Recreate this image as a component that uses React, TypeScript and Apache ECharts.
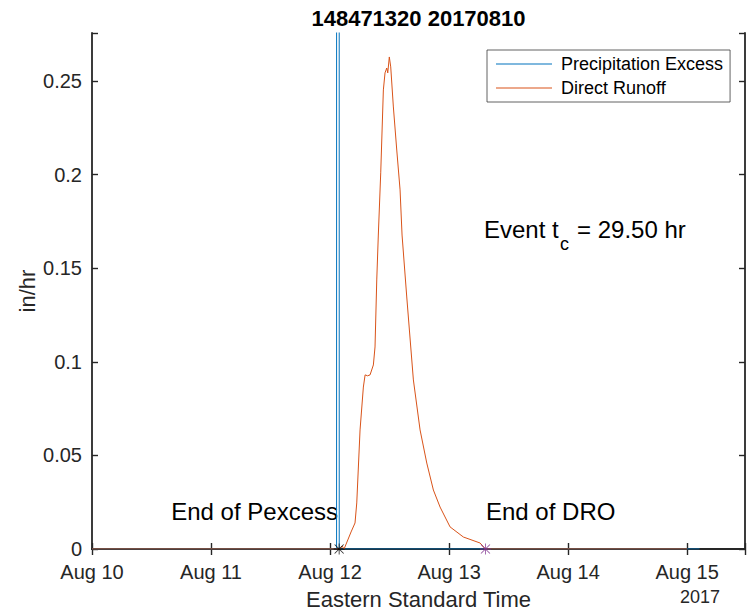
import React, { useEffect, useRef } from 'react';
import * as echarts from 'echarts';

const TITLE = '148471320 20170810';
const X_NAME = 'Eastern Standard Time';
const X_SECONDARY = '2017';
const Y_NAME = 'in/hr';
const X_TICK_LABELS = ['Aug 10', 'Aug 11', 'Aug 12', 'Aug 13', 'Aug 14', 'Aug 15'];
const Y_TICK_LABELS = ['0', '0.05', '0.1', '0.15', '0.2', '0.25'];
const X_START = '2017-08-10 00:00';
const X_END = '2017-08-15 11:40';
const Y_MAX = 0.2756;
const Y_STEP = 0.05;

const SERIES_NAMES = ['Precipitation Excess', 'Direct Runoff'];

const PEXCESS_TIMES = [
  '2017-08-10 00:00', '2017-08-12 01:19', '2017-08-12 01:20',
  '2017-08-12 01:50', '2017-08-12 01:51', '2017-08-15 02:30',
];
const PEXCESS_VALUES = [0, 0, 1.2, 1.2, 0, 0];

const RUNOFF_TIMES = [
  '2017-08-10 00:00', '2017-08-12 02:00', '2017-08-12 02:25', '2017-08-12 02:50',
  '2017-08-12 04:14', '2017-08-12 05:02', '2017-08-12 05:23', '2017-08-12 06:03',
  '2017-08-12 06:43', '2017-08-12 07:04', '2017-08-12 07:34', '2017-08-12 08:04',
  '2017-08-12 08:44', '2017-08-12 09:04', '2017-08-12 09:25', '2017-08-12 09:44',
  '2017-08-12 10:13', '2017-08-12 10:45', '2017-08-12 11:05', '2017-08-12 11:26',
  '2017-08-12 11:38', '2017-08-12 11:57', '2017-08-12 12:14', '2017-08-12 12:46',
  '2017-08-12 13:27', '2017-08-12 14:07', '2017-08-12 14:31', '2017-08-12 15:28',
  '2017-08-12 16:48', '2017-08-12 18:09', '2017-08-12 19:30', '2017-08-12 20:50',
  '2017-08-12 22:11', '2017-08-13 00:12', '2017-08-13 02:53', '2017-08-13 06:15',
  '2017-08-13 07:20', '2017-08-15 00:00',
];
const RUNOFF_VALUES = [
  0, 0, 0.0016, 0,
  0.0091, 0.0139, 0.0246, 0.0636,
  0.0865, 0.093, 0.0925, 0.093,
  0.0983, 0.1079, 0.1437, 0.1677,
  0.2009, 0.2452, 0.2543, 0.2569,
  0.2543, 0.2628, 0.2575, 0.2361,
  0.2131, 0.1918, 0.1677, 0.1346,
  0.0903, 0.0636, 0.0459, 0.0315,
  0.0224, 0.0118, 0.0064, 0.0032,
  0, 0,
];

const END_PEXCESS = '2017-08-12 01:50';
const END_DRO = '2017-08-13 07:20';
const TC_HOURS = 29.5;

const DAY = 86400000;
const FONT = '"Liberation Sans", Arial, Helvetica, sans-serif';
const AXIS_COLOR = '#262626';
const ASTERISK =
  'path://M4.6,0H5.4V10H4.6Z M0,4.6H10V5.4H0Z M1.2,0.6L9.4,8.8L8.8,9.4L0.6,1.2Z M8.8,0.6L9.4,1.2L1.2,9.4L0.6,8.8Z';
const LEGEND_LINE = 'path://M0,0H56V1H0Z';

function toMs(s: string): number {
  const [d, t] = s.split(' ');
  const [Y, M, D] = d.split('-').map(Number);
  const [h, m] = t.split(':').map(Number);
  return Date.UTC(Y, M - 1, D, h, m);
}

const T0 = toMs(X_START);
const T1 = toMs(X_END);

function xLabel(v: number): string {
  const i = Math.round((v - T0) / DAY);
  if (Math.abs(v - T0 - i * DAY) > 1000) return '';
  return X_TICK_LABELS[i] ?? '';
}
function yLabel(v: number): string {
  const i = Math.round(v / Y_STEP);
  if (Math.abs(v - i * Y_STEP) > 1e-6) return '';
  return Y_TICK_LABELS[i] ?? '';
}

export default function App() {
  const ref = useRef<HTMLDivElement>(null);
  useEffect(() => {
    if (!ref.current) return;
    const chart = echarts.init(ref.current, undefined, { renderer: 'svg' });
    const axisLine = { show: true, lineStyle: { color: AXIS_COLOR, width: 1.8 } };
    const axisTick = { show: true, inside: true, length: 6, lineStyle: { color: AXIS_COLOR, width: 1.4 } };
    const xBase = { type: 'value', min: T0, max: T1, interval: DAY, splitLine: { show: false }, axisLine, axisTick };
    const yBase = { type: 'value', min: 0, max: Y_MAX, interval: Y_STEP, splitLine: { show: false }, axisLine, axisTick };
    chart.setOption({
      animation: false,
      backgroundColor: '#ffffff',
      textStyle: { fontFamily: FONT },
      grid: { left: 92, right: 8, top: 33, bottom: 64, containLabel: false },
      xAxis: [
        {
          ...xBase,
          position: 'bottom',
          axisLabel: { formatter: xLabel, fontSize: 20, color: AXIS_COLOR, margin: 13, fontFamily: FONT },
        },
        { ...xBase, position: 'top', axisLabel: { show: false } },
        {
          type: 'value', min: T0, max: T1, interval: DAY, position: 'bottom', offset: 0, z: 3,
          splitLine: { show: false }, axisTick: { show: false }, axisLabel: { show: false },
          axisLine: { show: true, lineStyle: { color: 'rgba(38,38,38,0.5)', width: 1.8 } },
        },
      ],
      yAxis: [
        {
          ...yBase,
          position: 'left',
          axisLabel: { formatter: yLabel, fontSize: 20, color: AXIS_COLOR, margin: 10, fontFamily: FONT },
        },
        { ...yBase, position: 'right', axisLabel: { show: false } },
      ],
      legend: {
        data: SERIES_NAMES.map((name) => ({ name, icon: LEGEND_LINE })),
        orient: 'vertical',
        left: 487,
        top: 50,
        itemWidth: 56,
        itemHeight: 14,
        itemGap: 6,
        padding: [5, 7, 5, 9],
        borderColor: '#3a3a3a',
        borderWidth: 0.8,
        borderRadius: 0,
        backgroundColor: '#ffffff',
        textStyle: { fontSize: 18, color: '#000', fontFamily: FONT, padding: [0, 0, 0, 4] },
      },
      series: [
        {
          name: SERIES_NAMES[0],
          type: 'line',
          xAxisIndex: 0,
          yAxisIndex: 0,
          data: PEXCESS_TIMES.map((t, i) => [toMs(t), PEXCESS_VALUES[i]]),
          symbol: 'none',
          color: '#0072BD',
          lineStyle: { width: 1, color: '#0072BD' },
          clip: true,
        },
        {
          name: SERIES_NAMES[1],
          type: 'line',
          xAxisIndex: 0,
          yAxisIndex: 0,
          data: RUNOFF_TIMES.map((t, i) => [toMs(t), RUNOFF_VALUES[i]]),
          symbol: 'none',
          color: '#D95319',
          lineStyle: { width: 1, color: '#D95319' },
          clip: true,
        },
        {
          name: 'endPexcess',
          type: 'scatter',
          xAxisIndex: 0,
          yAxisIndex: 0,
          data: [[toMs(END_PEXCESS), 0]],
          symbol: ASTERISK,
          symbolSize: 11,
          itemStyle: { color: '#000000' },
          clip: false,
          silent: true,
          z: 5,
        },
        {
          name: 'endDRO',
          type: 'scatter',
          xAxisIndex: 0,
          yAxisIndex: 0,
          data: [[toMs(END_DRO), 0]],
          symbol: ASTERISK,
          symbolSize: 11,
          itemStyle: { color: '#7E2F8E' },
          clip: false,
          silent: true,
          z: 5,
        },
      ],
      graphic: [
        { type: 'text', x: 418.5, y: 18, style: { text: TITLE, fontSize: 22, fontWeight: 'bold', fontFamily: FONT, fill: '#000', align: 'center', verticalAlign: 'middle' } },
        { type: 'text', x: 418.5, y: 599, style: { text: X_NAME, fontSize: 22, fontFamily: FONT, fill: AXIS_COLOR, align: 'center', verticalAlign: 'middle' } },
        { type: 'text', x: 720, y: 597, style: { text: X_SECONDARY, fontSize: 18, fontFamily: FONT, fill: AXIS_COLOR, align: 'right', verticalAlign: 'middle' } },
        { type: 'text', x: 27, y: 291, rotation: Math.PI / 2, style: { text: Y_NAME, fontSize: 22, fontFamily: FONT, fill: AXIS_COLOR, align: 'center', verticalAlign: 'middle' } },
        { type: 'text', x: 338, y: 511, style: { text: 'End of Pexcess', fontSize: 24, fontFamily: FONT, fill: '#000', align: 'right', verticalAlign: 'middle' } },
        { type: 'text', x: 486, y: 511, style: { text: 'End of DRO', fontSize: 24, fontFamily: FONT, fill: '#000', align: 'left', verticalAlign: 'middle' } },
        { type: 'text', x: 484, y: 229, style: { text: 'Event t', fontSize: 24, fontFamily: FONT, fill: '#000', align: 'left', verticalAlign: 'middle' } },
        { type: 'text', x: 560, y: 244, style: { text: 'c', fontSize: 18, fontFamily: FONT, fill: '#000', align: 'left', verticalAlign: 'middle' } },
        { type: 'text', x: 577, y: 229, style: { text: `= ${TC_HOURS.toFixed(2)} hr`, fontSize: 24, fontFamily: FONT, fill: '#000', align: 'left', verticalAlign: 'middle' } },
      ],
    });
    return () => chart.dispose();
  }, []);
  return <div ref={ref} style={{ position: 'absolute', left: 0, top: 0, width: 753, height: 613 }} />;
}
